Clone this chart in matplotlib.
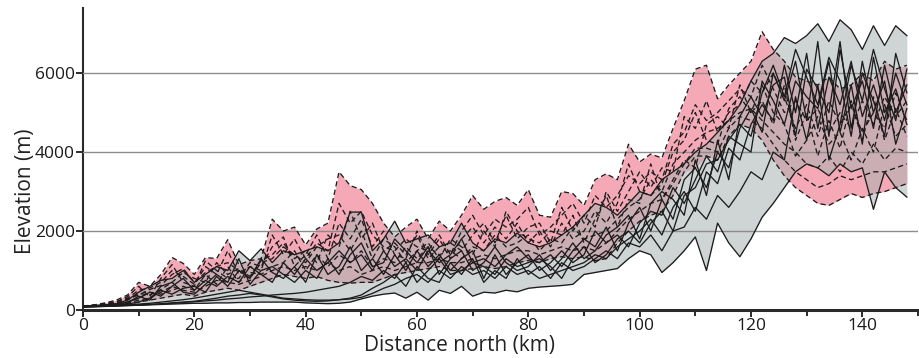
import matplotlib
matplotlib.use('Agg')
import matplotlib.pyplot as plt
import numpy as np

# Sample positions along the transect (km)
distance_km = list(range(0, 149, 2))

# Elevation profiles (m), dashed group (pink envelope)
dashed_1 = [100, 130, 180, 250, 380, 700, 600, 900, 1330, 1180, 900, 1330, 1300, 1780, 1150,
            1250, 1300, 2300, 2000, 2100, 1650, 2050, 2200, 3500, 3150, 3050, 2700, 2200, 1850,
            2100, 2300, 1800, 2250, 2000, 2400, 2900, 2550, 2750, 2850, 2650, 3050, 2400, 2350,
            3000, 2950, 2650, 3300, 3450, 3300, 4200, 3750, 3950, 3850, 4600, 5300, 6100, 6200,
            5350, 5700, 6000, 6300, 7050, 6600, 6300, 5900, 5800, 5700, 5900, 5600, 5700, 6000,
            5800, 6300, 6100, 6200]
dashed_2 = [80, 100, 110, 130, 150, 200, 250, 300, 350, 400, 350, 450, 500, 550, 500,
            600, 700, 800, 900, 850, 800, 850, 750, 700, 680, 700, 700, 800, 900,
            950, 1000, 1050, 1100, 1000, 1000, 1050, 1100, 1050, 1100, 1200, 1250, 1200, 1300,
            1350, 1300, 1350, 1250, 1300, 1700, 2000, 2250, 2400, 2500, 2900, 3500, 3900, 3900,
            3800, 4400, 4700, 4600, 4300, 3800, 3400, 3100, 2900, 2700, 2650, 2800, 2950, 2850,
            2950, 3000, 3100, 3200]
dashed_3 = [95, 120, 160, 220, 300, 500, 560, 700, 1000, 850, 650, 1100, 900, 1500, 900,
            1100, 1000, 1900, 1400, 1800, 1300, 1700, 1500, 2700, 2200, 2500, 1900, 1600, 1500,
            1800, 1600, 1500, 1900, 1400, 2000, 2400, 1900, 2300, 2100, 2300, 2600, 1900, 2100,
            2400, 2700, 2200, 2900, 2600, 2900, 3400, 3200, 3500, 3300, 4200, 4500, 5200, 4800,
            5000, 5300, 5600, 5400, 6200, 5600, 5000, 5300, 4800, 5100, 4500, 5000, 4600, 5300,
            4700, 5400, 4900, 5300]
dashed_4 = [90, 115, 140, 180, 250, 420, 380, 520, 700, 950, 800, 700, 1200, 900, 1050,
            850, 1250, 1400, 1700, 1300, 1500, 1200, 1900, 1600, 2500, 1800, 2200, 1500, 1700,
            1400, 1900, 1300, 1600, 1700, 1500, 1900, 2200, 1700, 2400, 1800, 2100, 2200, 1700,
            2600, 2000, 2400, 2100, 3000, 2500, 3000, 3500, 3100, 3600, 3500, 4900, 4600, 5300,
            4500, 5000, 5200, 5800, 5500, 6000, 5400, 4600, 5200, 4400, 5300, 4700, 5200, 4500,
            5000, 4600, 5500, 4800]
dashed_5 = [85, 105, 120, 150, 200, 300, 450, 400, 500, 600, 500, 900, 650, 1100, 700,
            950, 900, 1100, 1200, 1500, 1000, 1400, 1100, 1400, 1200, 1500, 1100, 1300, 1200,
            1600, 1300, 1600, 1400, 1500, 1300, 1600, 1500, 1900, 1600, 1700, 1900, 1500, 1800,
            1700, 2100, 1800, 1900, 2000, 2300, 2600, 2800, 3300, 3000, 3700, 4000, 4300, 4500,
            4600, 4800, 5000, 5100, 4800, 4500, 4200, 4000, 3700, 3600, 3900, 3500, 4000, 3700,
            4200, 3800, 4100, 4000]
dashed_6 = [92, 125, 150, 200, 340, 600, 330, 800, 1150, 700, 600, 1250, 1000, 800, 800,
            1200, 1100, 1600, 1850, 1100, 1400, 1900, 1300, 2200, 1800, 2300, 1600, 2000, 1400,
            1300, 2000, 1400, 1800, 1300, 1800, 2100, 1700, 2100, 1800, 2200, 1700, 2000, 1600,
            2200, 1800, 2000, 2500, 2200, 2700, 3700, 3000, 2900, 3200, 4000, 4300, 5000, 4300,
            4200, 5100, 5400, 5000, 5700, 5000, 4700, 3900, 4300, 4900, 4200, 4500, 3800, 4600,
            4000, 5200, 4400, 4700]
dashed_7 = [88, 110, 130, 170, 280, 380, 520, 620, 900, 1050, 700, 950, 1100, 1200, 1000,
            800, 1200, 1300, 1600, 1400, 1200, 1600, 1800, 1900, 1500, 2000, 1300, 1800, 1600,
            1200, 1500, 1700, 1300, 1800, 1600, 1400, 2000, 1600, 2500, 2000, 1800, 1700, 2000,
            1900, 2400, 1700, 2300, 2900, 2100, 2800, 2700, 3700, 2800, 3300, 3800, 3600, 4700,
            4900, 4600, 5700, 5000, 5300, 4700, 5700, 4300, 5000, 3900, 4800, 4100, 5300, 4300,
            5400, 4300, 5100, 4400]
dashed_8 = [82, 102, 115, 140, 170, 250, 300, 450, 600, 500, 450, 600, 750, 700, 650,
            750, 850, 1000, 1100, 1000, 1100, 1000, 1200, 1000, 1100, 900, 1000, 1100, 1000,
            1100, 1200, 1200, 1300, 1200, 1200, 1300, 1400, 1300, 1400, 1500, 1500, 1400, 1500,
            1600, 1500, 1600, 1500, 1700, 2000, 2300, 2500, 2700, 2800, 3200, 3700, 4100, 4100,
            4000, 4600, 4900, 4800, 4600, 4200, 3800, 3500, 3300, 3100, 3200, 3400, 3300, 3400,
            3500, 3500, 3600, 3700]

# Elevation profiles (m), solid group (grey envelope)
solid_1 = [100, 110, 130, 160, 250, 450, 600, 750, 800, 1000, 700, 900, 1100, 1000, 1500,
           1250, 1550, 1200, 1500, 1400, 1500, 1600, 1500, 1700, 2480, 2480, 1500, 1800, 2250,
           1700, 1800, 1900, 1600, 1700, 2200, 1700, 1500, 1800, 1700, 1950, 1700, 1600, 1700,
           1900, 2100, 2400, 2700, 2600, 2400, 2700, 3000, 2900, 3300, 3500, 3700, 4000, 4200,
           4500, 4800, 5200, 5800, 6300, 6500, 6900, 6750, 6950, 7250, 6800, 7350, 7100, 6600,
           7200, 6700, 7200, 6950]
solid_2 = [70, 80, 90, 100, 110, 120, 130, 140, 150, 160, 170, 170, 180, 180, 190,
           190, 200, 200, 200, 200, 180, 170, 160, 170, 200, 280, 350, 400, 430,
           300, 450, 250, 500, 420, 600, 350, 450, 430, 500, 460, 550, 580, 600,
           620, 650, 900, 950, 1000, 1050, 1300, 1500, 1400, 950, 1200, 1500, 1850, 1000,
           2200, 1700, 1350, 1800, 2350, 2700, 3100, 3500, 3700, 3600, 3400, 3700, 3500, 3600,
           2550, 3500, 3100, 2860]
solid_3 = [90, 100, 110, 120, 130, 150, 170, 200, 230, 260, 300, 350, 400, 450, 500,
           450, 400, 350, 300, 280, 260, 250, 250, 260, 280, 320, 420, 550, 650,
           800, 900, 700, 1000, 800, 1100, 900, 1000, 800, 1100, 900, 1000, 800, 900,
           1000, 1100, 1200, 1400, 1300, 1600, 1800, 2000, 2300, 1900, 2600, 3000, 2500, 3500,
           3200, 4100, 3800, 4700, 5200, 4800, 6200, 5000, 6500, 4600, 5900, 5200, 6300, 4900,
           5700, 4800, 6000, 5200]
solid_4 = [95, 105, 120, 140, 200, 300, 450, 350, 600, 800, 500, 750, 600, 850, 700,
           1100, 900, 700, 1200, 900, 1300, 1000, 1200, 1500, 1200, 1400, 1000, 1500, 1100,
           1300, 1000, 1500, 1200, 1400, 1800, 1200, 1300, 1100, 1400, 1600, 1300, 1200, 1400,
           1100, 1500, 1800, 1600, 2100, 1500, 2200, 2600, 2000, 2800, 2300, 3300, 3600, 3100,
           4000, 3600, 4600, 5100, 4500, 6000, 5300, 6300, 4800, 6800, 4400, 6600, 5100, 5800,
           4600, 6200, 5000, 5700]
solid_5 = [85, 95, 100, 110, 150, 200, 300, 500, 400, 550, 600, 450, 850, 600, 1000,
           800, 1300, 950, 800, 1100, 700, 1400, 900, 1100, 1600, 1000, 1300, 900, 1400,
           1000, 1500, 1100, 1400, 1000, 1300, 1500, 800, 1400, 900, 1200, 1400, 1000, 1200,
           1500, 1200, 1400, 2000, 1700, 1900, 1600, 2200, 2500, 2400, 3100, 2700, 3300, 3900,
           3500, 4400, 4200, 4000, 5800, 5300, 4700, 5800, 5400, 5100, 6300, 4500, 5700, 4200,
           6400, 5000, 5600, 4700]
solid_6 = [100, 110, 125, 150, 180, 350, 250, 600, 700, 450, 400, 650, 900, 700, 1300,
           650, 1000, 1100, 900, 700, 1000, 800, 1300, 900, 1400, 1700, 1100, 1200, 1800,
           1500, 1200, 1600, 900, 1300, 1500, 1000, 1200, 1600, 1200, 1000, 1100, 1400, 1000,
           1300, 1700, 1300, 1500, 1900, 2100, 2400, 1800, 2700, 3000, 2800, 2400, 3800, 2900,
           4300, 3300, 4900, 5400, 4900, 5700, 5900, 4400, 6100, 5600, 5000, 6800, 4600, 6000,
           5300, 4400, 6500, 5500]
solid_7 = [80, 90, 100, 110, 120, 130, 140, 160, 180, 200, 220, 260, 300, 350, 380,
           420, 380, 330, 280, 250, 230, 220, 230, 260, 300, 380, 550, 700, 900,
           600, 1100, 800, 700, 1200, 900, 1300, 700, 1000, 800, 1300, 900, 1100, 800,
           1200, 1000, 1100, 1300, 1500, 1300, 1700, 1600, 1900, 1500, 2000, 2100, 2600, 2300,
           2900, 2600, 3000, 3500, 3300, 4000, 3800, 5400, 4300, 5700, 3800, 4700, 6200, 5300,
           6600, 5600, 4800, 6100]
solid_8 = [75, 85, 95, 105, 115, 125, 140, 150, 170, 190, 210, 230, 250, 280, 300,
           330, 350, 380, 400, 420, 450, 500, 550, 600, 700, 850, 750, 1000, 800,
           1200, 700, 1000, 1300, 900, 1000, 1200, 1100, 900, 1300, 1100, 1200, 1300, 1100,
           800, 1300, 1600, 1200, 1400, 1800, 2000, 1700, 2200, 2500, 2000, 2900, 3100, 3700,
           3800, 4300, 4700, 4400, 5500, 6200, 5400, 6600, 5900, 5200, 6400, 5800, 4400, 6300,
           5000, 5800, 4200, 5100]

PINK = '#f5a9b7'
GREY = '#a9b1b3'
INK = '#1c1c1c'

plt.rcParams['font.family'] = ['Open Sans', 'DejaVu Sans']

fig = plt.figure(figsize=(9.2, 3.58), dpi=100)
ax = fig.add_axes([0.0902, 0.1341, 0.9076, 0.8436])

dashed = np.array([dashed_1, dashed_2, dashed_3, dashed_4,
                   dashed_5, dashed_6, dashed_7, dashed_8])
solid = np.array([solid_1, solid_2, solid_3, solid_4,
                  solid_5, solid_6, solid_7, solid_8])

# Envelopes: pink for the dashed group, translucent grey for the solid group
ax.fill_between(distance_km, dashed.min(axis=0), dashed.max(axis=0),
                color=PINK, lw=0, zorder=1)
ax.fill_between(distance_km, solid.min(axis=0), solid.max(axis=0),
                color=GREY, alpha=0.55, lw=0, zorder=2)

for level in (2000, 4000, 6000):
    ax.axhline(level, color='#8c8c8c', lw=1.0, zorder=3)

for prof in dashed:
    ax.plot(distance_km, prof, color=INK, lw=0.95, ls=(0, (4, 2.5)), zorder=4)
for prof in solid:
    ax.plot(distance_km, prof, color=INK, lw=0.95, ls='-', zorder=4)

ax.set_xlim(0, 150)
ax.set_ylim(0, 7650)
ax.set_xticks(range(0, 141, 20))
ax.set_xticks(range(10, 151, 20), minor=True)
ax.set_yticks([0, 2000, 4000, 6000])

for side in ('top', 'right'):
    ax.spines[side].set_visible(False)
ax.spines['left'].set_linewidth(1.5)
ax.spines['bottom'].set_linewidth(2.2)
ax.spines['left'].set_color('#2a2a2a')
ax.spines['bottom'].set_color('#2a2a2a')

ax.tick_params(which='major', direction='out', length=5, width=1.3,
               labelsize=12.5, colors='#1a1a1a', pad=1)
ax.tick_params(which='minor', direction='out', length=4, width=1.3, colors='#1a1a1a')

ax.set_xlabel('Distance north (km)', fontsize=15, color='#222222')
ax.set_ylabel('Elevation (m)', fontsize=15, color='#222222')
ax.xaxis.set_label_coords(0.4515, -0.083)
ax.yaxis.set_label_coords(-0.056, 0.394)

fig.savefig('out.png', dpi=100)
